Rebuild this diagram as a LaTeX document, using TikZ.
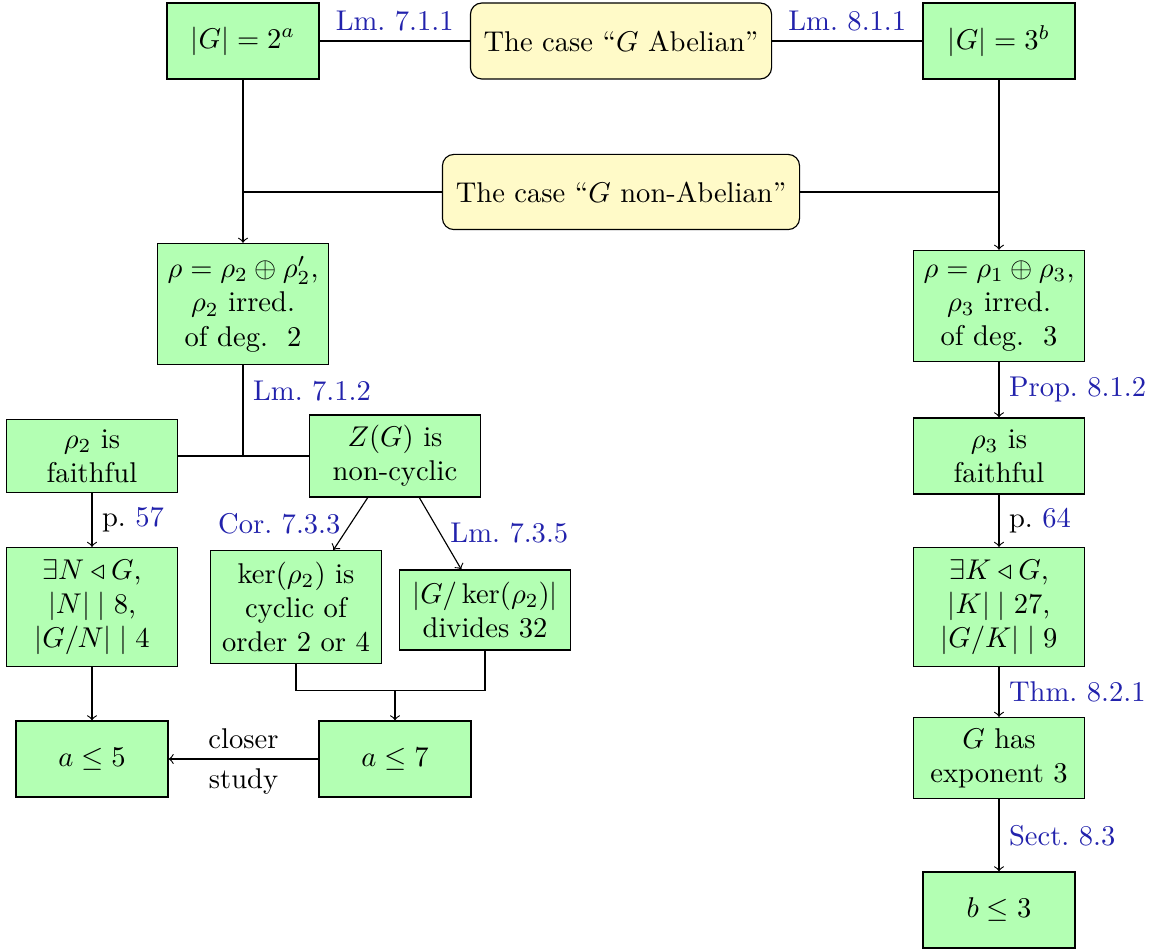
\documentclass[tikz,border=0pt]{standalone}
\usepackage{amsmath,amssymb}
\usetikzlibrary{calc}
\definecolor{boxgreen}{RGB}{179,255,179}
\definecolor{boxyellow}{RGB}{255,250,200}
\definecolor{refblue}{RGB}{34,34,172}
\begin{document}
\begin{tikzpicture}[x=0.35pt,y=-0.35pt,
  gbox/.style={draw, fill=boxgreen, align=center, inner sep=3.33pt},
  ybox/.style={draw, fill=boxyellow, rounded corners=4pt, align=center, inner sep=3.33pt},
  sbox/.style={minimum width=53.2pt, minimum height=26.6pt},
  mbox/.style={minimum width=59.85pt},
  lab/.style={text=refblue}]
\useasboundingbox (0,0) rectangle (1151,951);
% nodes
\node[gbox, sbox] (A) at (243,41) {$|G|=2^a$};
\node[ybox, minimum width=105.4pt, minimum height=26.6pt] (Ab) at (621,41) {The case ``$G$ Abelian''};
\node[gbox, sbox] (B) at (999,41) {$|G|=3^b$};
\node[ybox, minimum width=125pt, minimum height=26.3pt] (nAb) at (621,192) {The case ``$G$ non-Abelian''};
\node[gbox, mbox, minimum height=42.4pt] (r2) at (243,304) {$\rho=\rho_2\oplus\rho_2'$,\\ $\rho_2$ irred.\\ of deg.~~2};
\node[gbox, mbox, minimum height=38.9pt] (r3) at (999,306) {$\rho=\rho_1\oplus\rho_3$,\\ $\rho_3$ irred.\\ of deg.~~3};
\node[gbox, mbox, minimum height=25.2pt] (f2) at (92,456) {$\rho_2$ is\\ faithful};
\node[gbox, mbox, minimum height=28.7pt] (Z) at (395,456) {$Z(G)$ is\\ non-cyclic};
\node[gbox, mbox, minimum height=41.6pt] (N) at (92,607) {$\exists N\triangleleft G$,\\ $|N|\mid 8$,\\ $|G/N|\mid 4$};
\node[gbox, mbox, minimum height=39.5pt] (ker) at (296,607) {$\ker(\rho_2)$ is\\ cyclic of\\ order 2 or 4};
\node[gbox, mbox, minimum height=28pt] (Gk) at (485,610) {$|G/\ker(\rho_2)|$\\ divides 32};
\node[gbox, sbox] (a5) at (92,759) {$a\le 5$};
\node[gbox, sbox] (a7) at (395,759) {$a\le 7$};
\node[gbox, mbox, minimum height=26.6pt] (f3) at (999,456) {$\rho_3$ is\\ faithful};
\node[gbox, mbox, minimum height=41.6pt] (K) at (999,607) {$\exists K\triangleleft G$,\\ $|K|\mid 27$,\\ $|G/K|\mid 9$};
\node[gbox, mbox, minimum height=28.35pt] (ex) at (999,758) {$G$ has\\ exponent 3};
\node[gbox, sbox] (b3) at (999,910) {$b\le 3$};
% connectors
\draw (A) -- node[lab, above] {Lm.~7.1.1} (Ab);
\draw (Ab) -- node[lab, above] {Lm.~8.1.1} (B);
\draw[->] (A) -- (r2);
\coordinate (jl) at (A.south |- nAb.west);
\draw (nAb.west) -- (jl);
\coordinate (jr) at (B.south |- nAb.east);
\draw (nAb.east) -- (jr);
\draw[->] (B) -- (r3);
\coordinate (j2) at (r2.south |- f2.east);
\draw (r2.south) -- node[lab, right, pos=0.28] {Lm.~7.1.2} (j2);
\draw (f2.east) -- (Z.west);
\draw[->] (f2) -- node[right] {p.~\textcolor{refblue}{57}} (N);
\draw[->] (Z) -- node[lab, left] {Cor.~7.3.3} (ker);
\draw[->] (Z) -- node[lab, right] {Lm.~7.3.5} (Gk);
\coordinate (j3) at ($(a7.north)+(0,-30)$);
\draw (ker.south) |- (j3) -| (Gk.south);
\draw[->] (j3) -- (a7.north);
\draw[->] (N) -- (a5);
\draw[->] (a7) -- node[above] {closer} node[below] {study} (a5);
\draw[->] (r3) -- node[lab, right] {Prop.~8.1.2} (f3);
\draw[->] (f3) -- node[right] {p.~\textcolor{refblue}{64}} (K);
\draw[->] (K) -- node[lab, right] {Thm.~8.2.1} (ex);
\draw[->] (ex) -- node[lab, right] {Sect.~8.3} (b3);
\end{tikzpicture}
\end{document}
